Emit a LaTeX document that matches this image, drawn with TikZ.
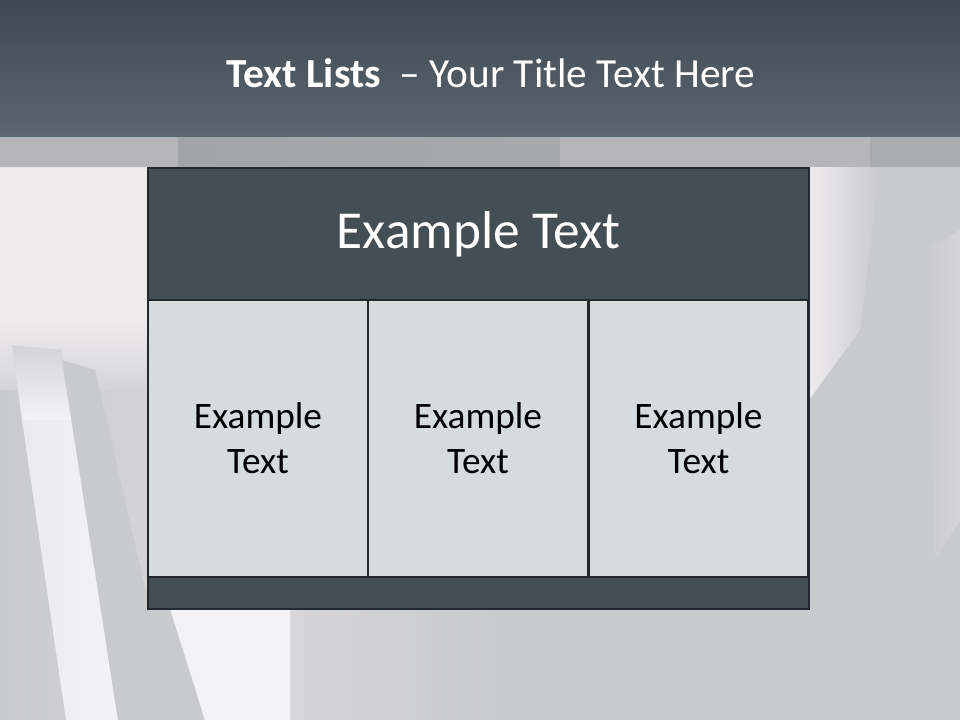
\documentclass[tikz,border=0pt]{standalone}
\usepackage{fontspec}
\setmainfont{Carlito}
\definecolor{bgbase}{HTML}{C9CACC}
\definecolor{bglight}{HTML}{EEEBED}
\definecolor{bgwhite}{HTML}{F3F2F4}
\definecolor{bgmid}{HTML}{D4D4D6}
\definecolor{titletop}{HTML}{3F4951}
\definecolor{titlebot}{HTML}{5A6670}
\definecolor{stripa}{HTML}{B6B6BA}
\definecolor{stripb}{HTML}{A1A4A8}
\definecolor{boxdark}{HTML}{434E55}
\definecolor{boxline}{HTML}{22282D}
\definecolor{cellfill}{HTML}{D6DBDE}
\tikzset{
  darkpanel/.style={draw=boxline, line width=2.2pt, fill=boxdark, inner sep=0pt},
  cellpanel/.style={draw=boxline, line width=1.8pt, fill=cellfill, inner sep=0pt,
     minimum width=165pt, minimum height=207.75pt, align=center,
     font=\fontsize{28}{33.6}\selectfont, text=black},
  titletext/.style={text=white, font=\fontsize{31}{37}\selectfont}
}
\begin{document}
\begin{tikzpicture}[x=0.75pt,y=-0.75pt]
\useasboundingbox (0,0) rectangle (960,720);
% photo-like background
\fill[bgbase] (0,0) rectangle (960,720);
% top-left light area
\fill[bglight] (0,167) rectangle (150,320);
\shade[top color=bglight, bottom color=bgmid] (0,320) rectangle (150,390);
\shade[left color=bgbase, right color=bgmid] (0,390) rectangle (150,720);
% white diagonal streak on the left
\shade[top color=bgmid, bottom color=bgwhite] (12,345) -- (62,350) -- (72,420) -- (22,420) -- cycle;
\shade[left color=bgwhite!80!bgbase, right color=bgwhite] (22,420) -- (72,420) -- (118,720) -- (66,720) -- cycle;
% shadow streak
\fill[bgbase] (62,360) -- (95,370) -- (150,610) -- (150,720) -- (118,720) -- cycle;
% light area under the box
\shade[left color=bgwhite, right color=bgmid] (170,609) -- (310,609) -- (310,720) -- (205,720) -- cycle;
\fill[bgwhite] (172,609) -- (290,609) -- (290,720) -- (205,720) -- cycle;
\shade[left color=bgmid, right color=bgbase] (310,609) rectangle (500,720);
% right side light areas
\shade[left color=bglight, right color=bgbase] (809,167) -- (880,167) -- (860,330) -- (809,400) -- cycle;
\shade[left color=bgbase, right color=bgmid] (925,250) -- (960,230) -- (960,520) -- (935,560) -- cycle;
% strip below title bar
\fill[stripa] (0,137) rectangle (960,167);
\shade[left color=stripb, right color=stripb!70!stripa] (178,137) rectangle (560,167);
\fill[stripb!60!stripa] (870,137) rectangle (960,167);
% title bar
\shade[top color=titletop, bottom color=titlebot] (0,0) rectangle (960,137);
\node[titletext, anchor=base] (title) at (491,88) {\textbf{Text Lists}\ \ – Your Title Text Here};
% table
\node[darkpanel, minimum width=495.75pt, minimum height=99pt] (header) at (478.5,234) {};
\node[text=black!70, opacity=0.6, font=\fontsize{40}{48}\selectfont] (headershadow) at (479.5,235.5) {Example Text};
\node[text=white, font=\fontsize{40}{48}\selectfont] (headertext) at (478.5,234) {Example Text};
\node[cellpanel] (cell1) at (258,438.5) {Example\\Text};
\node[cellpanel] (cell2) at (478,438.5) {Example\\Text};
\node[cellpanel] (cell3) at (698.5,438.5) {Example\\Text};
\node[darkpanel, minimum width=495.75pt, minimum height=24pt] (footer) at (478.5,593) {};
\end{tikzpicture}
\end{document}
